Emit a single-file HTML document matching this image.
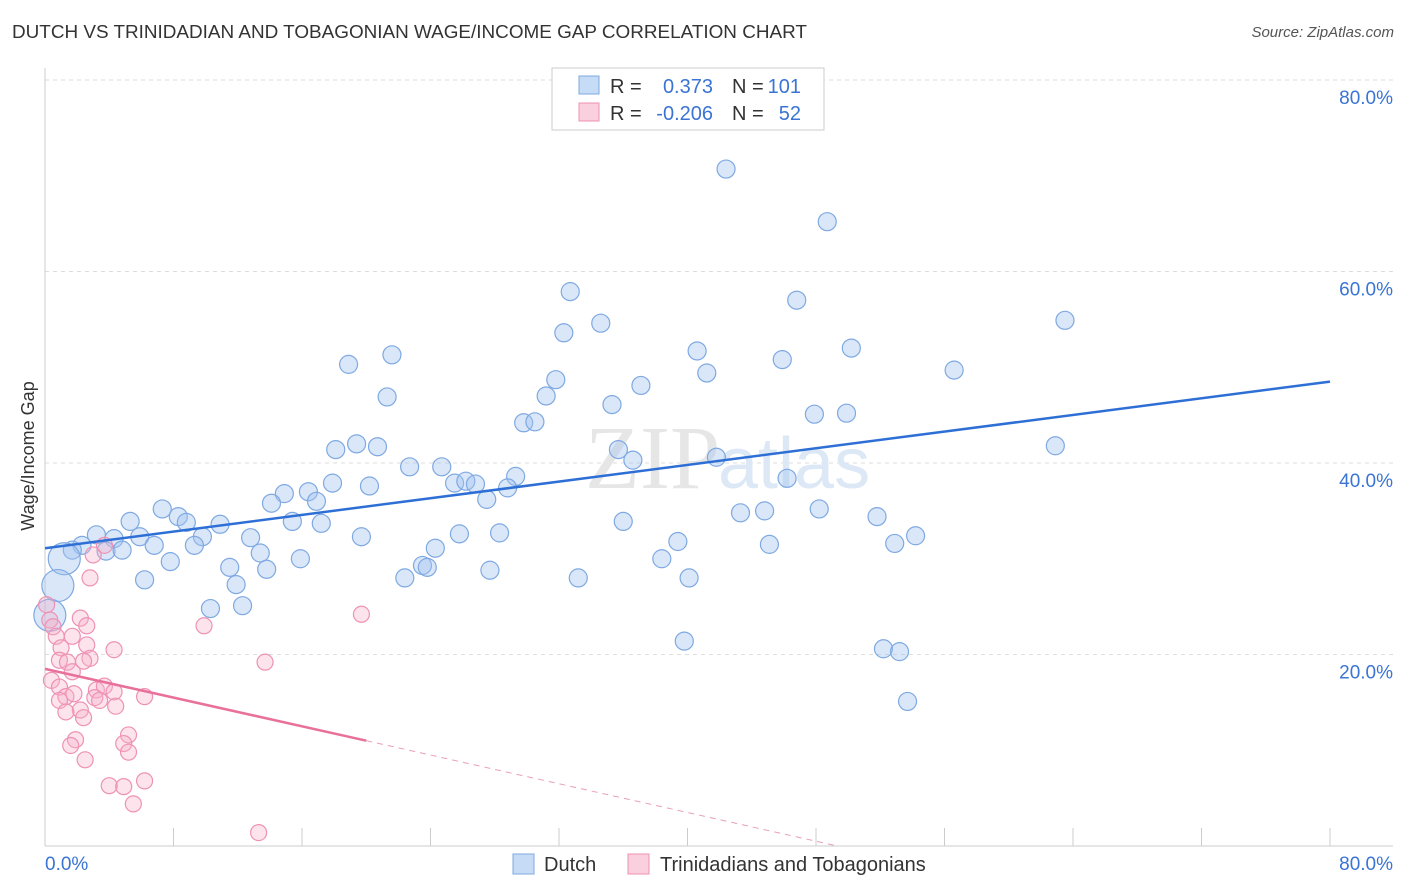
<!DOCTYPE html>
<html><head><meta charset="utf-8"><style>
body{margin:0;background:#fff;font-family:"Liberation Sans",sans-serif;}
#wrap{position:relative;width:1406px;height:892px;overflow:hidden;}
.t{position:absolute;white-space:nowrap;}
</style></head><body>
<div id="wrap">
<div class="t" style="left:12px;top:22px;font-size:18.9px;color:#333;">DUTCH VS TRINIDADIAN AND TOBAGONIAN WAGE/INCOME GAP CORRELATION CHART</div>
<div class="t" style="right:12px;top:24px;font-size:15px;color:#555;font-style:italic;">Source: ZipAtlas.com</div>
<svg id="svg" width="1406" height="892" style="position:absolute;left:0;top:0"></svg>
</div>
<script>
const xTicks=[0,8,16,24,32,40,48,56,64,72,80];
const yTicks=[20,40,60,80];
const dutchX=[42.4,48.7,32.7,46.8,34.6,63.5,32.3,21.6,18.9,40.6,50.2,45.9,41.2,56.6,31.8,37.1,21.3,31.2,35.3,47.9,49.9,29.8,30.5,62.9,19.4,20.7,18.1,35.7,41.8,36.6,22.7,24.7,29.3,46.2,25.5,26.2,26.8,28.8,17.9,20.2,16.4,14.9,16.9,27.5,14.1,7.3,43.3,44.8,48.2,8.3,5.3,15.4,17.2,10.9,8.8,36.0,51.8,3.2,4.3,5.9,9.8,12.8,19.7,25.8,28.3,54.2,39.4,6.8,9.3,2.3,1.7,3.8,4.8,24.3,45.1,52.9,13.4,38.4,15.9,7.8,11.5,23.5,23.8,27.7,13.8,22.4,33.2,40.1,6.2,11.9,12.3,10.3,39.8,52.2,53.2,53.7,1.2,0.8,0.3];
const dutchY=[70.7,65.2,57.9,57.0,54.6,54.9,53.6,51.3,50.3,51.7,52.0,50.8,49.4,49.7,48.7,48.1,46.9,47.0,46.1,45.1,45.2,44.2,44.3,41.8,42.0,41.7,41.4,41.4,40.6,40.3,39.6,39.6,38.6,38.4,37.9,38.1,37.8,37.4,37.9,37.6,37.0,36.8,36.0,36.2,35.8,35.2,34.8,35.0,35.2,34.4,33.9,33.9,33.7,33.6,33.8,33.9,34.4,32.5,32.1,32.3,32.3,32.2,32.3,32.6,32.7,32.4,31.8,31.4,31.4,31.4,30.9,30.8,30.9,31.1,31.5,31.6,30.6,30.0,30.0,29.7,29.1,29.3,29.1,28.8,28.9,28.0,28.0,28.0,27.8,27.3,25.1,24.8,21.4,20.6,20.3,15.1,30.0,27.2,24.1];
const dutchSize=dutchX.map((v,i)=>i>=dutchX.length-3?1:0);
const trinX=[0.1,0.3,0.5,0.7,2.2,2.6,1.7,1.0,2.6,0.9,1.4,1.7,2.8,4.3,2.4,0.4,0.9,1.3,1.8,3.2,3.7,4.3,3.1,6.2,0.9,2.2,2.4,4.4,1.3,2.8,3.0,3.7,9.9,13.7,19.7,1.9,1.6,5.2,4.9,5.2,2.5,6.2,4.0,4.9,5.5,13.3,3.4];
const trinY=[25.2,23.6,22.9,21.9,23.8,23.0,21.9,20.7,21.0,19.4,19.2,18.2,19.6,20.5,19.3,17.3,16.6,15.6,15.9,16.3,16.7,16.1,15.5,15.6,15.2,14.2,13.4,14.6,14.0,28.0,30.4,31.4,23.0,19.2,24.2,11.1,10.5,11.6,10.7,9.8,9.0,6.8,6.3,6.2,4.4,1.4,15.2];
const dutchTrend=[31.1,48.5];
const trinTrend=[18.5,11.0];
const trinSolidEnd=20;

const X=v=>45+v/80*1285, Y=v=>846-v/80*766;
const svg=document.getElementById('svg');const NS='http://www.w3.org/2000/svg';
function mk(tag,attrs,name){const e=document.createElementNS(NS,tag);for(const k in attrs)e.setAttribute(k,attrs[k]);


svg.appendChild(e);return e;}
yTicks.forEach(v=>{mk('line',{x1:45,x2:1393,y1:Y(v),y2:Y(v),stroke:'#ddd','stroke-dasharray':'4,4'},'gridline');
const t=mk('text',{x:1393,y:Y(v)+24,'text-anchor':'end','font-size':19,fill:'#3a74d4'},'y-tick-label');t.textContent=v.toFixed(1)+'%';});
mk('line',{x1:45,x2:1393,y1:846,y2:846,stroke:'#ccc'},'x-axis');
mk('line',{x1:45,x2:45,y1:68,y2:846,stroke:'#ccc'},'y-axis');
xTicks.forEach(v=>{mk('line',{x1:X(v),x2:X(v),y1:828,y2:846,stroke:'#ccc'},'x-tick');});
let t=mk('text',{x:45,y:870,'font-size':19,fill:'#3a74d4'},'x-min-label');t.textContent='0.0%';
t=mk('text',{x:1393,y:870,'font-size':19,fill:'#3a74d4','text-anchor':'end'},'x-max-label');t.textContent='80.0%';
t=mk('text',{x:34,y:456,'font-size':18,fill:'#333','text-anchor':'middle',transform:'rotate(-90 34 456)'},'y-axis-title');t.textContent='Wage/Income Gap';
t=mk('text',{x:720,y:488,'font-size':90,fill:'#e6e6e6','text-anchor':'end','font-family':'Liberation Serif'},'watermark');t.textContent='ZIP';
t=mk('text',{x:718,y:488,'font-size':72,fill:'#dde8f6'},'watermark');t.textContent='atlas';
dutchX.forEach((v,i)=>mk('circle',{cx:X(v),cy:Y(dutchY[i]),r:dutchSize[i]?16:9,fill:'rgba(160,196,240,0.4)',stroke:'#7fa9e2','stroke-width':1.2},'dutch-point'));
trinX.forEach((v,i)=>mk('circle',{cx:X(v),cy:Y(trinY[i]),r:8,fill:'rgba(246,175,200,0.35)',stroke:'#ee92b3','stroke-width':1.2},'trinidadian-point'));
mk('line',{x1:X(0),y1:Y(dutchTrend[0]),x2:X(80),y2:Y(dutchTrend[1]),stroke:'#2e6fd6','stroke-width':2.5},'dutch-trendline');
const slope=(trinTrend[1]-trinTrend[0])/trinSolidEnd;
mk('line',{x1:X(0),y1:Y(trinTrend[0]),x2:X(trinSolidEnd),y2:Y(trinTrend[1]),stroke:'#e8709a','stroke-width':2.5},'trinidadian-trendline');
const xz=-trinTrend[0]/slope;
mk('line',{x1:X(trinSolidEnd),y1:Y(trinTrend[1]),x2:X(xz),y2:Y(0),stroke:'#e8a0b8','stroke-width':1,'stroke-dasharray':'6,5'},'trinidadian-trend-extension');
mk('rect',{x:552,y:68,width:272,height:62,fill:'#fff',stroke:'#ccc'},'legend-box');
mk('rect',{x:579,y:76,width:20,height:18,fill:'rgba(160,196,240,0.6)',stroke:'#7fa9e2'},'legend-swatch-dutch');
mk('rect',{x:579,y:103,width:20,height:18,fill:'rgba(246,175,200,0.6)',stroke:'#ee92b3'},'legend-swatch-trinidadian');
function txt(x,y,s,c,n,a){const e=mk('text',{x:x,y:y,'font-size':20,fill:c,'text-anchor':a||'start'},n);e.textContent=s;}
txt(610,93,'R =','#333','legend-r-label');txt(713,93,'0.373','#3a74d4','legend-r-dutch','end');
txt(732,93,'N =','#333','legend-n-label');txt(801,93,'101','#3a74d4','legend-n-dutch','end');
txt(610,120,'R =','#333','legend-r-label');txt(713,120,'-0.206','#3a74d4','legend-r-trinidadian','end');
txt(732,120,'N =','#333','legend-n-label');txt(801,120,'52','#3a74d4','legend-n-trinidadian','end');
mk('rect',{x:513,y:854,width:21,height:20,fill:'rgba(160,196,240,0.6)',stroke:'#7fa9e2'},'bottom-legend-swatch-dutch');
txt(544,871,'Dutch','#333','bottom-legend-dutch');
mk('rect',{x:628,y:854,width:21,height:20,fill:'rgba(246,175,200,0.6)',stroke:'#ee92b3'},'bottom-legend-swatch-trinidadian');
txt(660,871,'Trinidadians and Tobagonians','#333','bottom-legend-trinidadian');
</script>
</body></html>
